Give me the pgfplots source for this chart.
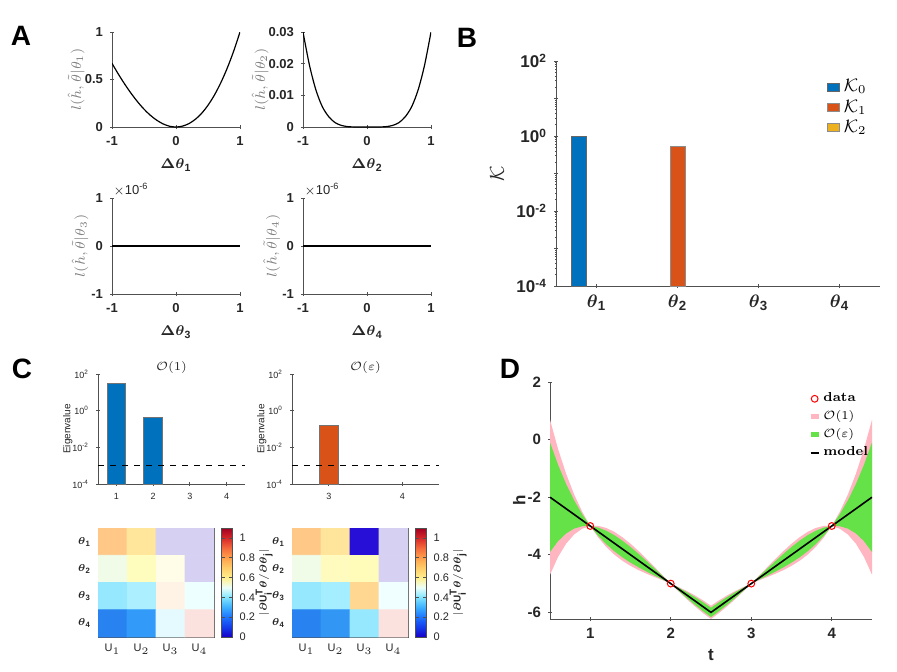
\documentclass[border=0pt]{standalone}
\usepackage{fontspec}
\setsansfont{Liberation Sans}
\renewcommand{\familydefault}{\sfdefault}
\usepackage{amsmath}
\usepackage{pgfplots}
\usepackage{pgfplotstable}
\pgfplotsset{compat=1.18}

\definecolor{mblue}{RGB}{0,114,189}
\definecolor{morange}{RGB}{217,83,25}
\definecolor{myellow}{RGB}{237,177,32}
\definecolor{pinkband}{RGB}{255,182,193}
\definecolor{greenband}{RGB}{100,226,72}
\definecolor{axgray}{RGB}{80,80,80}
\definecolor{txt}{RGB}{38,38,38}

\newcommand{\fs}[1]{\fontsize{#1}{#1}\selectfont}
\newcommand{\bth}[1]{$\boldsymbol{\theta}_{\textbf{#1}}$}

% loss curves, panel A
\pgfplotstableread{
x     l1      l2
-1.0  0.670   0.0300
-0.9  0.556   0.0196
-0.8  0.450   0.0118
-0.7  0.353   0.0065
-0.6  0.265   0.0033
-0.5  0.188   0.0014
-0.4  0.123   0.0005
-0.3  0.071   0.00012
-0.2  0.032   0.00002
-0.1  0.008   0.0
 0.0  0.0     0.0
 0.1  0.009   0.0
 0.2  0.035   0.00002
 0.3  0.080   0.00012
 0.4  0.144   0.0005
 0.5  0.229   0.0014
 0.6  0.336   0.0033
 0.7  0.466   0.0065
 0.8  0.619   0.0118
 0.9  0.797   0.0196
 1.0  1.000   0.0300
}\losstab

\pgfplotsset{
  base/.style={scale only axis,
    axis line style={-, draw=axgray, line width=0.5pt},
    tick style={draw=axgray, line width=0.4pt},
    tick align=inside, major tick length=2pt, minor tick length=1pt,
    tick label style={text=txt},
    /pgf/number format/assume math mode=true},
  boxoff/.style={axis lines=left, axis line style={-},
    every outer x axis line/.append style={-}, every outer y axis line/.append style={-},
    every inner x axis line/.append style={-}, every inner y axis line/.append style={-}},
  apanel/.style={base, boxoff, width=64pt,
    xmin=-1, xmax=1, xtick={-1,0,1},
    tick label style={font=\fs{6.5}\bfseries},
    xlabel style={font=\fs{7.5}\bfseries, text=txt},
    ylabel style={font=\fs{7}, text=gray, anchor=center}},
  eigax/.style={base, boxoff,
    ymin=1e-4, ymax=1e2, height=55pt, width=73.5pt,
    ytick={1e-4,1e-2,1,1e2},
    yticklabels={10\textsuperscript{-4},10\textsuperscript{-2},10\textsuperscript{0},10\textsuperscript{2}},
    tick label style={font=\fs{4.5}},
    ylabel={Eigenvalue},
    ylabel style={font=\fs{5}, text=txt, at={(axis description cs:-0.205,0.5)}, anchor=center},
    title style={font=\fs{6.5}, text=txt, yshift=-9.5pt}},
  heat/.style={base, width=58pt, height=54.5pt,
    xmin=0.5, xmax=4.5, ymin=0.5, ymax=4.5, y dir=reverse,
    xtick={1,2,3,4}, ytick={1,2,3,4},
    xticklabels={U$_1$,U$_2$,U$_3$,U$_4$},
    yticklabels={\bth{1},\bth{2},\bth{3},\bth{4}},
    tick label style={font=\fs{5.5}},
    colormap={cb}{rgb255=(25,0,200) rgb255=(20,60,235) rgb255=(30,115,255)
      rgb255=(60,175,255) rgb255=(130,228,255) rgb255=(235,255,250)
      rgb255=(255,238,140) rgb255=(255,205,105) rgb255=(255,160,75)
      rgb255=(245,105,60) rgb255=(215,40,40) rgb255=(160,0,35)},
    colorbar, point meta min=0, point meta max=1.1,
    colorbar style={base, at={(parent axis.north east)}, anchor=north west,
      xshift=-5pt, width=5.75pt, height=54.5pt,
      ytick={0,0.2,0.4,0.6,0.8,1}, tick label style={font=\fs{5.5}},
      ylabel={$|\boldsymbol{\partial}$U$_\textbf{i}^\textbf{T}\boldsymbol{\theta}/\boldsymbol{\partial\theta}_\textbf{j}|$},
      ylabel style={font=\fs{5}\bfseries, text=txt, at={(axis description cs:3.75,0.5)}, anchor=center}}},
  markleg/.style={legend image code/.code={\draw[##1] plot coordinates {(2pt,0pt)};}},
  boxleg/.style={legend image code/.code={\fill[##1] (0pt,-1.3pt) rectangle (4pt,1.3pt);}},
  lineleg/.style={legend image code/.code={\draw[##1] (0pt,0pt) -- (4pt,0pt);}},
}

\begin{document}
\begin{tikzpicture}
\useasboundingbox (0,0) rectangle (448.5pt,-335.5pt);

% ---- A ----
\begin{axis}[apanel, at={(56pt,-63.5pt)}, anchor=south west, height=47.5pt,
  ymin=0, ymax=1, ytick={0,0.5,1},
  xlabel={$\boldsymbol{\Delta\theta}_{\textbf{1}}$},
  ylabel={$l(\hat{h},\tilde{\theta}|\theta_1)$},
  ylabel style={at={(axis description cs:-0.28,0.5)}}]
\addplot[black, line width=0.6pt, smooth] table[x=x, y=l1] {\losstab};
\end{axis}

\begin{axis}[apanel, at={(151.5pt,-63.5pt)}, anchor=south west, height=47.5pt,
  ymin=0, ymax=0.03, ytick={0,0.01,0.02,0.03}, yticklabels={0,0.01,0.02,0.03},
  scaled y ticks=false,
  xlabel={$\boldsymbol{\Delta\theta}_{\textbf{2}}$},
  ylabel={$l(\hat{h},\tilde{\theta}|\theta_2)$},
  ylabel style={at={(axis description cs:-0.335,0.5)}}]
\addplot[black, line width=0.6pt, smooth] table[x=x, y=l2] {\losstab};
\end{axis}

\begin{axis}[apanel, at={(56pt,-147pt)}, anchor=south west, height=48pt, clip=false,
  ymin=-1, ymax=1, ytick={-1,0,1},
  xlabel={$\boldsymbol{\Delta\theta}_{\textbf{3}}$},
  ylabel={$l(\hat{h},\tilde{\theta}|\theta_3)$},
  ylabel style={at={(axis description cs:-0.25,0.5)}}]
\addplot[black, line width=0.6pt] coordinates {(-1,0) (1,0)};
\node[anchor=south west, font=\fs{6.5}, text=txt, inner sep=0.5pt] at (rel axis cs:0,1) {$\times$10\textsuperscript{-6}};
\end{axis}

\begin{axis}[apanel, at={(151.5pt,-147pt)}, anchor=south west, height=48pt, clip=false,
  ymin=-1, ymax=1, ytick={-1,0,1},
  xlabel={$\boldsymbol{\Delta\theta}_{\textbf{4}}$},
  ylabel={$l(\hat{h},\tilde{\theta}|\theta_4)$},
  ylabel style={at={(axis description cs:-0.245,0.5)}}]
\addplot[black, line width=0.6pt] coordinates {(-1,0) (1,0)};
\node[anchor=south west, font=\fs{6.5}, text=txt, inner sep=0.5pt] at (rel axis cs:0,1) {$\times$10\textsuperscript{-6}};
\end{axis}

% ---- B ----
\begin{axis}[base, boxoff, at={(278pt,-143pt)}, anchor=south west, width=162pt, height=112.5pt,
  ymode=log, log origin=infty,
  xmin=0.5, xmax=4.5, ymin=1e-4, ymax=1e2,
  xtick={1,2,3,4}, xticklabels={\bth{1},\bth{2},\bth{3},\bth{4}},
  ytick={1e-4,1e-3,1e-2,1e-1,1,10,100},
  yticklabels={10\textsuperscript{-4},,10\textsuperscript{-2},,10\textsuperscript{0},,10\textsuperscript{2}},
  tick label style={font=\fs{8.5}\bfseries},
  xticklabel style={font=\fs{9.5}\bfseries},
  ylabel={$\mathcal{K}$},
  ylabel style={font=\fs{10}, text=txt, at={(axis description cs:-0.182,0.5)}, anchor=center},
  legend style={draw=none, fill=none, at={(rel axis cs:0.99,0.955)}, anchor=north east,
    font=\fs{9}, row sep=-1.5pt},
  legend cell align=left,
  legend image code/.code={\draw[#1] (0pt,-2pt) rectangle (6pt,2pt);}]
\addplot[ybar, bar width=7.5pt, fill=mblue, draw=black!60] coordinates {(0.78,1.0)};
\addlegendentry{$\mathcal{K}_0$}
\addplot[ybar, bar width=7.5pt, fill=morange, draw=black!45] coordinates {(2,0.52)};
\addlegendentry{$\mathcal{K}_1$}
\addlegendimage{fill=myellow, draw=black!45}
\addlegendentry{$\mathcal{K}_2$}
\end{axis}

% ---- C ----
\begin{axis}[eigax, ymode=log, log origin=infty, at={(49pt,-242pt)}, anchor=south west,
  xmin=0.5, xmax=4.5, xtick={1,2,3,4}, title={$\mathcal{O}(1)$}]
\addplot[ybar, bar width=9.3pt, fill=mblue, draw=black!55] coordinates {(1,31) (2,0.44)};
\addplot[black, dashed, line width=0.5pt] coordinates {(0.5,1e-3) (4.5,1e-3)};
\end{axis}

\begin{axis}[eigax, ymode=log, log origin=infty, at={(146pt,-242pt)}, anchor=south west,
  xmin=2.5, xmax=4.5, xtick={3,4}, title={$\mathcal{O}(\varepsilon)$}]
\addplot[ybar, bar width=9.3pt, fill=morange, draw=black!55] coordinates {(3,0.166)};
\addplot[black, dashed, line width=0.5pt] coordinates {(2.5,1e-3) (4.5,1e-3)};
\end{axis}

\begin{axis}[heat, at={(49pt,-318.5pt)}, anchor=south west]
\addplot[matrix plot*, mesh/cols=4, mesh/color input=explicit, point meta=explicit symbolic]
  table[meta=c] {
x y c
1 1 rgb255=255,200,135
2 1 rgb255=255,230,155
3 1 rgb255=214,208,242
4 1 rgb255=214,208,242
1 2 rgb255=240,252,232
2 2 rgb255=255,253,190
3 2 rgb255=255,253,232
4 2 rgb255=214,208,242
1 3 rgb255=150,232,255
2 3 rgb255=172,240,255
3 3 rgb255=255,243,230
4 3 rgb255=238,255,255
1 4 rgb255=40,130,240
2 4 rgb255=50,155,250
3 4 rgb255=228,250,255
4 4 rgb255=252,226,222
};
\end{axis}

\begin{axis}[heat, at={(146pt,-318.5pt)}, anchor=south west]
\addplot[matrix plot*, mesh/cols=4, mesh/color input=explicit, point meta=explicit symbolic]
  table[meta=c] {
x y c
1 1 rgb255=255,200,135
2 1 rgb255=255,228,155
3 1 rgb255=40,15,215
4 1 rgb255=214,208,242
1 2 rgb255=240,252,232
2 2 rgb255=255,250,190
3 2 rgb255=255,252,185
4 2 rgb255=214,208,242
1 3 rgb255=150,232,255
2 3 rgb255=165,238,255
3 3 rgb255=255,215,145
4 3 rgb255=240,255,255
1 4 rgb255=40,130,240
2 4 rgb255=50,150,245
3 4 rgb255=150,232,255
4 4 rgb255=252,226,222
};
\end{axis}

% ---- D ----
\begin{axis}[base, boxoff, at={(275pt,-309.5pt)}, anchor=south west, width=161pt, height=118.5pt,
  xmin=0.5, xmax=4.5, ymin=-6.23, ymax=2,
  xtick={1,2,3,4}, ytick={-6,-4,-2,0,2},
  tick label style={font=\fs{7.5}\bfseries},
  xlabel={t}, ylabel={h}, label style={font=\fs{8.5}\bfseries, text=txt},
  ylabel style={at={(axis description cs:-0.096,0.5)}, anchor=center},
  xlabel style={at={(axis description cs:0.5,-0.15)}, anchor=center},
  legend style={draw=none, fill=none, at={(rel axis cs:1.02,0.99)}, anchor=north east,
    font=\fs{6.5}\rmfamily\bfseries, row sep=-1pt},
  legend cell align=left]
% O(1) band: upper edge left to right, then lower edge right to left
\addplot[fill=pinkband, draw=none, forget plot] coordinates {
(0.5,0.691)(0.6,-0.326)(0.7,-1.186)(0.8,-1.907)(0.9,-2.506)(1,-3)(1.1,-2.997)(1.2,-3.069)
(1.3,-3.205)(1.4,-3.391)(1.5,-3.616)(1.6,-3.869)(1.7,-4.143)(1.8,-4.427)(1.9,-4.715)(2,-5)
(2.1,-5.123)(2.2,-5.258)(2.3,-5.41)(2.4,-5.58)(2.5,-5.769)(2.6,-5.58)(2.7,-5.41)(2.8,-5.258)
(2.9,-5.123)(3,-5)(3.1,-4.715)(3.2,-4.427)(3.3,-4.143)(3.4,-3.869)(3.5,-3.616)(3.6,-3.391)
(3.7,-3.205)(3.8,-3.069)(3.9,-2.997)(4,-3)(4.1,-2.506)(4.2,-1.907)(4.3,-1.186)(4.4,-0.326)(4.5,0.691)
(4.5,-4.691)(4.4,-4.074)(4.3,-3.614)(4.2,-3.293)(4.1,-3.094)(4,-3)(3.9,-3.403)(3.8,-3.731)
(3.7,-3.995)(3.6,-4.209)(3.5,-4.384)(3.4,-4.531)(3.3,-4.657)(3.2,-4.773)(3.1,-4.885)(3,-5)
(2.9,-5.277)(2.8,-5.542)(2.7,-5.79)(2.6,-6.02)(2.5,-6.231)(2.4,-6.02)(2.3,-5.79)(2.2,-5.542)
(2.1,-5.277)(2,-5)(1.9,-4.885)(1.8,-4.773)(1.7,-4.657)(1.6,-4.531)(1.5,-4.384)(1.4,-4.209)
(1.3,-3.995)(1.2,-3.731)(1.1,-3.403)(1,-3)(0.9,-3.094)(0.8,-3.293)(0.7,-3.614)(0.6,-4.074)(0.5,-4.691)
} --cycle;
% O(eps) band
\addplot[fill=greenband, draw=none, forget plot] coordinates {
(0.5,-0.097)(0.6,-0.875)(0.7,-1.542)(0.8,-2.11)(0.9,-2.592)(1,-3)(1.1,-3.056)(1.2,-3.166)
(1.3,-3.32)(1.4,-3.51)(1.5,-3.728)(1.6,-3.966)(1.7,-4.218)(1.8,-4.478)(1.9,-4.74)(2,-5)
(2.1,-5.145)(2.2,-5.3)(2.3,-5.465)(2.4,-5.644)(2.5,-5.837)(2.6,-5.644)(2.7,-5.465)(2.8,-5.3)
(2.9,-5.145)(3,-5)(3.1,-4.74)(3.2,-4.478)(3.3,-4.218)(3.4,-3.966)(3.5,-3.728)(3.6,-3.51)
(3.7,-3.32)(3.8,-3.166)(3.9,-3.056)(4,-3)(4.1,-2.592)(4.2,-2.11)(4.3,-1.542)(4.4,-0.875)(4.5,-0.097)
(4.5,-3.903)(4.4,-3.525)(4.3,-3.258)(4.2,-3.09)(4.1,-3.008)(4,-3)(3.9,-3.344)(3.8,-3.634)
(3.7,-3.88)(3.6,-4.09)(3.5,-4.272)(3.4,-4.434)(3.3,-4.582)(3.2,-4.722)(3.1,-4.86)(3,-5)
(2.9,-5.255)(2.8,-5.5)(2.7,-5.735)(2.6,-5.956)(2.5,-6.163)(2.4,-5.956)(2.3,-5.735)(2.2,-5.5)
(2.1,-5.255)(2,-5)(1.9,-4.86)(1.8,-4.722)(1.7,-4.582)(1.6,-4.434)(1.5,-4.272)(1.4,-4.09)
(1.3,-3.88)(1.2,-3.634)(1.1,-3.344)(1,-3)(0.9,-3.008)(0.8,-3.09)(0.7,-3.258)(0.6,-3.525)(0.5,-3.903)
} --cycle;
\addplot[black, line width=0.8pt, forget plot] coordinates {(0.5,-2) (2.5,-6) (4.5,-2)};
\addplot[only marks, mark=o, red, mark size=1.7pt, line width=0.5pt, forget plot]
  coordinates {(1,-3) (2,-5) (3,-5) (4,-3)};

\addlegendimage{only marks, mark=o, red, mark size=1.7pt, line width=0.5pt, markleg}
\addlegendentry{data}
\addlegendimage{fill=pinkband, draw=none, boxleg}
\addlegendentry{$\mathcal{O}(1)$}
\addlegendimage{fill=greenband, draw=none, boxleg}
\addlegendentry{$\mathcal{O}(\varepsilon)$}
\addlegendimage{black, line width=0.8pt, lineleg}
\addlegendentry{model}
\end{axis}

% panel letters
\node[font=\fs{14}\bfseries] at (10.5pt,-18pt) {A};
\node[font=\fs{14}\bfseries] at (233.5pt,-19pt) {B};
\node[font=\fs{14}\bfseries] at (11pt,-184.5pt) {C};
\node[font=\fs{14}\bfseries] at (255pt,-184.5pt) {D};
\end{tikzpicture}
\end{document}
